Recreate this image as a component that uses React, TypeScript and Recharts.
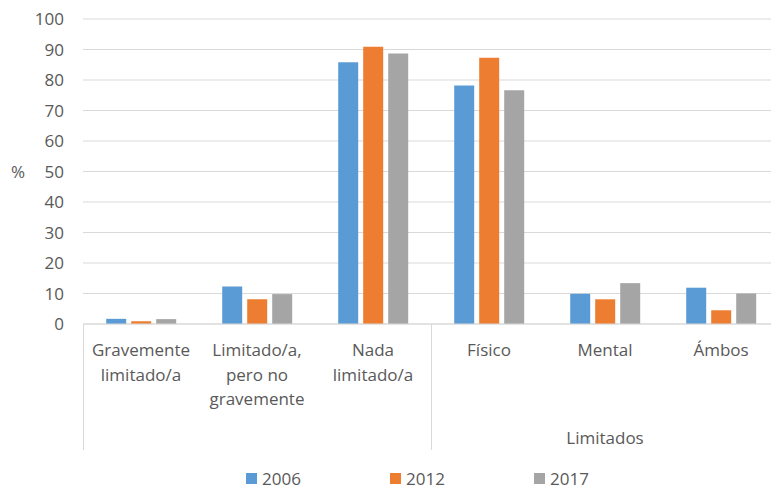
import React from 'react';
import { BarChart, Bar, XAxis, YAxis, CartesianGrid, Legend } from 'recharts';

const categories = ['Gravemente\nlimitado/a', 'Limitado/a,\npero no\ngravemente', 'Nada\nlimitado/a', 'Físico', 'Mental', 'Ámbos'];
const groups = ['', '', '', 'Limitados', 'Limitados', 'Limitados'];
const values2006 = [1.7, 12.3, 85.8, 78.2, 9.9, 11.9];
const values2012 = [0.9, 8.1, 90.9, 87.3, 8.1, 4.5];
const values2017 = [1.6, 9.8, 88.7, 76.6, 13.4, 10.0];
const yTicks = [0, 10, 20, 30, 40, 50, 60, 70, 80, 90, 100];
const seriesNames = ['2006', '2012', '2017'];
const seriesColors = ['#5B9BD5', '#ED7D31', '#A5A5A5'];

const FONT = '"Open Sans", sans-serif';
const TEXT = '#595959';
const LINE = '#d9d9d9';
const MAIN_AXIS_H = 100;
const GROUP_AXIS_H = 26;

const data = categories.map((name, i) => ({
    name,
    group: groups[i] || ' ',
    s2006: values2006[i],
    s2012: values2012[i],
    s2017: values2017[i],
}));

const CategoryTick = (props: any) => {
    const { x, y, payload } = props;
    const lines = String(payload.value).split('\n');
    return (
        <text x={x} y={y} textAnchor="middle" fill={TEXT} fontSize={17} fontFamily={FONT}>
            {lines.map((l, i) => (
                <tspan key={i} x={x} dy={i === 0 ? 32 : 24.5}>{l}</tspan>
            ))}
        </text>
    );
};

// outer level of the category axis: box lines + group name
const GroupTick = (props: any) => {
    const { x, y, payload } = props;
    const half = payload.offset || 174;
    const left = Math.round(x - half) + 0.5;
    return (
        <g>
            <line x1={left} x2={left} y1={y - MAIN_AXIS_H} y2={y + GROUP_AXIS_H} stroke={LINE} />
            {String(payload.value).trim() && (
                <text x={x} y={y + 20} textAnchor="middle" fill={TEXT} fontSize={17} fontFamily={FONT}>
                    {payload.value}
                </text>
            )}
        </g>
    );
};

const LegendContent = (props: any) => (
    <div style={{ display: 'flex', height: 38, boxSizing: 'border-box', paddingTop: 19, paddingLeft: 246, fontFamily: FONT, fontSize: 17, color: TEXT, lineHeight: '20px' }}>
        {(props.payload || []).map((p: any) => (
            <div key={p.value} style={{ width: 144, display: 'flex', alignItems: 'center' }}>
                <span style={{ display: 'inline-block', width: 11, height: 11, background: p.color, marginRight: 5 }} />
                {p.value}
            </div>
        ))}
    </div>
);

export default function App() {
    return (
        <div style={{ position: 'absolute', left: 0, top: 0, width: 771, height: 488, overflow: 'hidden', background: '#fff' }}>
            <BarChart
                width={779}
                height={488}
                data={data}
                margin={{ top: 19, right: 0, left: 0, bottom: 0 }}
                barCategoryGap="20%"
                barGap={5}
            >
                <CartesianGrid xAxisId="cat" vertical={false} stroke={LINE} />
                <XAxis
                    xAxisId="grp"
                    dataKey="group"
                    allowDuplicatedCategory={false}
                    height={GROUP_AXIS_H}
                    interval={0}
                    tickLine={false}
                    tickSize={0}
                    tickMargin={0}
                    axisLine={false}
                    tick={<GroupTick />}
                />
                <XAxis
                    xAxisId="cat"
                    dataKey="name"
                    height={MAIN_AXIS_H}
                    interval={0}
                    tickLine={false}
                    tickSize={0}
                    tickMargin={0}
                    axisLine={{ stroke: LINE }}
                    tick={<CategoryTick />}
                />
                <YAxis
                    domain={[0, 100]}
                    ticks={yTicks}
                    width={83}
                    axisLine={false}
                    tickLine={false}
                    tickSize={0}
                    tickMargin={19}
                    tick={{ fill: TEXT, fontSize: 17, fontFamily: FONT }}
                    label={{ value: '%', position: 'insideLeft', offset: 11, fill: TEXT, fontSize: 17, fontFamily: FONT }}
                />
                <Legend verticalAlign="bottom" height={38} content={<LegendContent />} />
                <Bar xAxisId="cat" dataKey="s2006" name={seriesNames[0]} fill={seriesColors[0]} isAnimationActive={false} />
                <Bar xAxisId="cat" dataKey="s2012" name={seriesNames[1]} fill={seriesColors[1]} isAnimationActive={false} />
                <Bar xAxisId="cat" dataKey="s2017" name={seriesNames[2]} fill={seriesColors[2]} isAnimationActive={false} />
            </BarChart>
        </div>
    );
}
